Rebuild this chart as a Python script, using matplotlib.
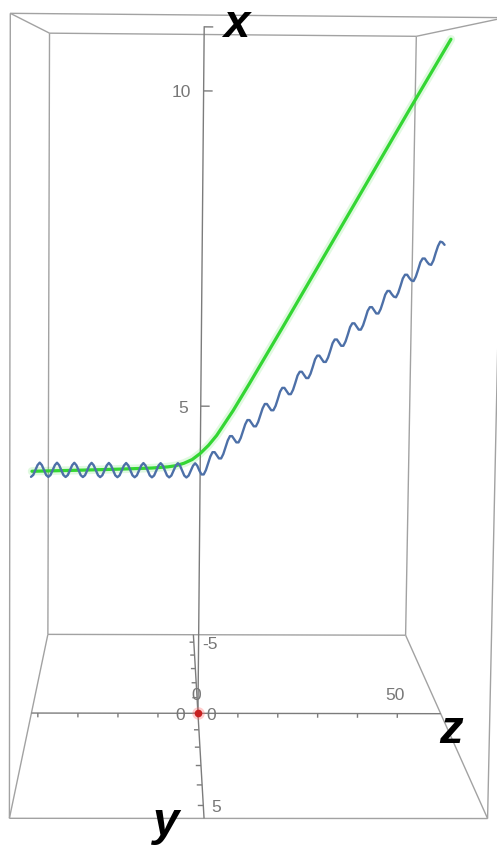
import numpy as np
import matplotlib
matplotlib.use("Agg")
import matplotlib.pyplot as plt

W, H, DPI = 497, 848, 100

# plot box: x points up, y comes towards the viewer, z runs to the right
x_range = (0.0, 11.01)
y_range = (-5.6, 5.6)
z_range = (-41.6, 60.9)

# green curve (lies in the y = 0 plane)
green_z = [-41.6, -30, -20, -12, -8, -6, -4, -2, 0, 2, 4, 6, 8, 10, 12,
           16, 20, 30, 40, 50, 60.2]
green_x = [3.94, 3.96, 3.98, 4.00, 4.02, 4.04, 4.08, 4.14, 4.24, 4.37, 4.53,
           4.73, 4.93, 5.15, 5.37, 5.82, 6.27, 7.41, 8.55, 9.69, 10.84]

# blue wavy curve (also in the y = 0 plane)
blue_z = [
    -41.82, -41.28, -40.75, -40.21, -39.68, -39.15, -38.61, -38.08,
    -37.55, -37.01, -36.48, -35.94, -35.41, -34.88, -34.34, -33.81,
    -33.28, -32.74, -32.21, -31.67, -31.14, -30.61, -30.07, -29.54,
    -29.01, -28.47, -27.94, -27.40, -26.87, -26.34, -25.80, -25.27,
    -24.74, -24.20, -23.67, -23.13, -22.60, -22.07, -21.53, -21.00,
    -20.47, -19.93, -19.40, -18.86, -18.33, -17.80, -17.26, -16.73,
    -16.20, -15.66, -15.13, -14.59, -14.06, -13.53, -12.99, -12.46,
    -11.93, -11.39, -10.86, -10.32, -9.79, -9.26, -8.72, -8.19,
    -7.66, -7.12, -6.59, -6.05, -5.52, -4.99, -4.45, -3.92,
    -3.39, -2.85, -2.32, -1.78, -1.25, -0.72, -0.18, 0.35,
    0.89, 1.42, 1.95, 2.49, 3.02, 3.55, 4.09, 4.62,
    5.16, 5.69, 6.22, 6.76, 7.29, 7.82, 8.36, 8.89,
    9.43, 9.96, 10.49, 11.03, 11.56, 12.09, 12.63, 13.16,
    13.70, 14.23, 14.76, 15.30, 15.83, 16.36, 16.90, 17.43,
    17.97, 18.50, 19.03, 19.57, 20.10, 20.63, 21.17, 21.70,
    22.24, 22.77, 23.30, 23.84, 24.37, 24.90, 25.44, 25.97,
    26.51, 27.04, 27.57, 28.11, 28.64, 29.17, 29.71, 30.24,
    30.78, 31.31, 31.84, 32.38, 32.91, 33.44, 33.98, 34.51,
    35.05, 35.58, 36.11, 36.65, 37.18, 37.71, 38.25, 38.78,
    39.32, 39.85, 40.38, 40.92, 41.45, 41.98, 42.52, 43.05,
    43.59, 44.12, 44.65, 45.19, 45.72, 46.25, 46.79, 47.32,
    47.86, 48.39, 48.92, 49.46, 49.99, 50.52, 51.06, 51.59,
    52.13, 52.66, 53.19, 53.73, 54.26, 54.79, 55.33, 55.86,
    56.40, 56.93, 57.46, 58.00, 58.53, 59.06, 59.60,
]
blue_x = [
    3.85, 3.88, 3.96, 4.04, 4.08, 4.04, 3.96, 3.88,
    3.85, 3.88, 3.96, 4.04, 4.08, 4.04, 3.96, 3.88,
    3.85, 3.88, 3.96, 4.04, 4.08, 4.04, 3.96, 3.88,
    3.85, 3.88, 3.96, 4.04, 4.08, 4.04, 3.96, 3.88,
    3.85, 3.88, 3.96, 4.04, 4.08, 4.04, 3.96, 3.88,
    3.85, 3.88, 3.96, 4.04, 4.08, 4.04, 3.96, 3.88,
    3.85, 3.88, 3.96, 4.04, 4.08, 4.04, 3.96, 3.88,
    3.85, 3.88, 3.96, 4.04, 4.08, 4.04, 3.96, 3.88,
    3.85, 3.88, 3.96, 4.04, 4.08, 4.04, 3.96, 3.88,
    3.85, 3.88, 3.96, 4.04, 4.08, 4.04, 3.96, 3.90,
    3.90, 3.97, 4.08, 4.19, 4.26, 4.26, 4.21, 4.16,
    4.16, 4.23, 4.34, 4.45, 4.52, 4.52, 4.47, 4.42,
    4.42, 4.49, 4.60, 4.71, 4.78, 4.78, 4.73, 4.68,
    4.68, 4.75, 4.86, 4.97, 5.04, 5.04, 4.99, 4.94,
    4.94, 5.01, 5.12, 5.24, 5.30, 5.30, 5.25, 5.20,
    5.20, 5.27, 5.38, 5.50, 5.56, 5.56, 5.51, 5.46,
    5.46, 5.53, 5.64, 5.76, 5.82, 5.82, 5.77, 5.72,
    5.72, 5.79, 5.90, 6.02, 6.08, 6.08, 6.03, 5.98,
    5.98, 6.05, 6.16, 6.28, 6.34, 6.34, 6.29, 6.24,
    6.24, 6.31, 6.42, 6.54, 6.60, 6.60, 6.55, 6.50,
    6.50, 6.57, 6.68, 6.80, 6.86, 6.86, 6.81, 6.77,
    6.76, 6.83, 6.94, 7.06, 7.12, 7.12, 7.07, 7.03,
    7.02, 7.09, 7.20, 7.32, 7.38, 7.38, 7.33, 7.29,
    7.28, 7.35, 7.47, 7.58, 7.65, 7.64, 7.60,
]

x_ticks = [5, 10, 11]
x_labels = {0: "0", 5: "5", 10: "10"}
y_ticks = [-5, -4, -3, -2, -1, 0, 1, 2, 3, 4, 5]
y_labels = {-5: "-5", 0: "0", 5: "5"}
z_ticks = [-40, -30, -20, -10, 0, 10, 20, 30, 40, 50]
z_labels = {0: "0", 50: "50"}

# perspective camera
F = 1205.0                       # focal length in pixels
KX, KZ = 2.0, 0.1286             # size of one x / z unit, in y units
EYE = np.array([-1.312, 20.02, 37.8])
PITCH, YAW, ROLL = 0.05, 0.01245, 0.008
P0 = (176.3, 150.35)             # principal point, pixels from top left

cp, sp = np.cos(PITCH), np.sin(PITCH)
cw, sw = np.cos(YAW), np.sin(YAW)
RIGHT = np.array([cw, 0.0, sw])
UP = np.array([sw * sp, cp, -cw * sp])
BACK = np.array([-sw * cp, sp, cw * cp])


def project(x, y, z):
    x, y, z = (np.atleast_1d(np.asarray(a, dtype=float)) for a in (x, y, z))
    x, y, z = np.broadcast_arrays(x, y, z)
    rel = np.stack([KZ * z - EYE[0], KX * x - EYE[1], y - EYE[2]])
    depth = -(BACK @ rel)
    u = F * (RIGHT @ rel) / depth
    w = F * (UP @ rel) / depth
    cr, sr = np.cos(ROLL), np.sin(ROLL)
    return u * cr + w * sr, -u * sr + w * cr


fig = plt.figure(figsize=(W / DPI, H / DPI), dpi=DPI)
ax = fig.add_axes([0, 0, 1, 1])
ax.set_xlim(-P0[0], W - P0[0])
ax.set_ylim(P0[1] - H, P0[1])
ax.axis("off")


def line3d(xs, ys, zs, **kw):
    u, w = project(xs, ys, zs)
    ax.plot(u, w, **kw)


box_kw = dict(color="#a2a2a2", lw=1.0, solid_capstyle="butt")
axis_kw = dict(color="#7c7c7c", lw=1.0, solid_capstyle="butt")
x0, x1 = x_range
y0, y1 = y_range
z0, z1 = z_range

# box edges
for xa in x_range:
    for ya in y_range:
        line3d([xa, xa], [ya, ya], [z0, z1], **box_kw)
for xa in x_range:
    for za in z_range:
        line3d([xa, xa], [y0, y1], [za, za], **box_kw)
for ya in y_range:
    for za in z_range:
        line3d([x0, x1], [ya, ya], [za, za], **box_kw)

# axes through the origin
line3d([0, x1], [0, 0], [0, 0], **axis_kw)
line3d([0, 0], [y0, y1], [0, 0], **axis_kw)
line3d([0, 0], [0, 0], [z0, z1], **axis_kw)

for t in x_ticks:
    line3d([t, t], [0, 0], [0, 2.2], **axis_kw)
for t in y_ticks:
    line3d([0, 0], [t, t], [0, -1.2], **axis_kw)
for t in z_ticks:
    line3d([0, -0.07], [0, 0], [t, t], **axis_kw)

# curves
zeros_g = np.zeros(len(green_z))
line3d(green_x, zeros_g, green_z, color="#33dd33", lw=6, alpha=0.15,
       solid_capstyle="round")
line3d(green_x, zeros_g, green_z, color="#33d633", lw=2.3,
       solid_capstyle="round")
line3d(blue_x, np.zeros(len(blue_z)), blue_z, color="#4d70a8", lw=1.7,
       solid_capstyle="round", solid_joinstyle="round")

# point at the origin
u, w = project(0, 0, 0)
ax.plot(u, w, "o", ms=9, color="#ff7070", alpha=0.35, mec="none")
ax.plot(u, w, "o", ms=5.5, color="#c82020", mec="none")

tick_font = dict(family="Liberation Sans", fontsize=12.5, color="#777777")
for t, s in x_labels.items():
    u, w = project(t, 0, 0)
    ax.annotate(s, (u[0], w[0]), xytext=(-13, -6.5), textcoords="offset pixels",
                ha="right", va="baseline", **tick_font)
for t, s in y_labels.items():
    u, w = project(0, t, 0)
    ax.annotate(s, (u[0], w[0]), xytext=(8, -6.5), textcoords="offset pixels",
                ha="left", va="baseline", **tick_font)
for t, s in z_labels.items():
    u, w = project(0, 0, t)
    ax.annotate(s, (u[0], w[0]), xytext=(-2, 13.5), textcoords="offset pixels",
                ha="center", va="baseline", **tick_font)

name_font = dict(family="Liberation Sans", fontsize=34, fontweight="bold",
                 fontstyle="italic", color="black")
u, w = project(x1, 0, 0)
ax.annotate("x", (u[0], w[0]), xytext=(32, -11), textcoords="offset pixels",
            ha="center", va="baseline", **name_font)
u, w = project(0, 0, z1)
ax.annotate("z", (u[0], w[0]), xytext=(10, -29), textcoords="offset pixels",
            ha="center", va="baseline", **name_font)
u, w = project(0, y1, 0)
ax.annotate("y", (u[0], w[0]), xytext=(-38, -17), textcoords="offset pixels",
            ha="center", va="baseline", **name_font)

fig.savefig("out.png", dpi=DPI)
